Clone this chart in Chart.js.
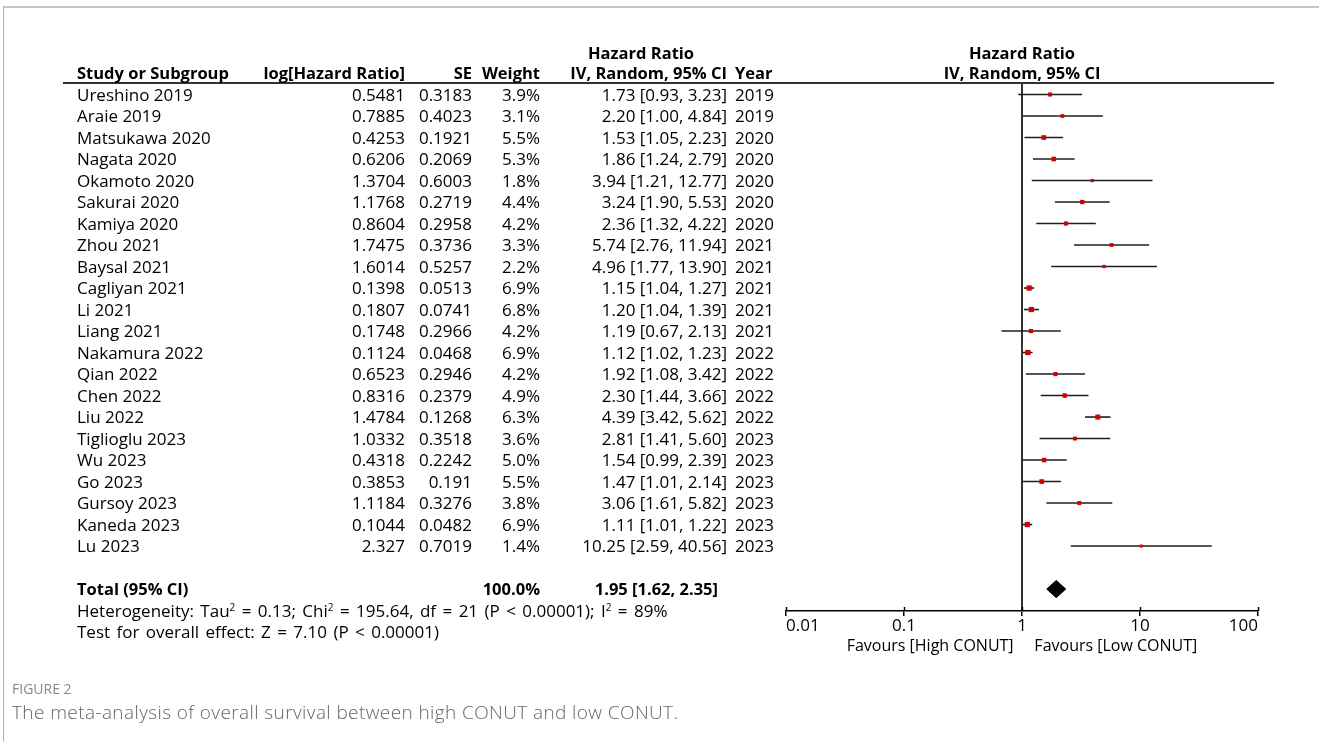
<!DOCTYPE html>
<html>
<head>
<meta charset="utf-8">
<script src="https://cdn.jsdelivr.net/npm/chart.js@4.4.1/dist/chart.umd.min.js"></script>
<style>
  html, body { margin: 0; padding: 0; background: #fff; }
  #page { position: relative; width: 1319px; height: 742px; overflow: hidden; font-family: "Open Sans", "Noto Sans", sans-serif; }
  #frame { position: absolute; left: 3px; top: 6px; right: 0; bottom: 0; border-top: 2px solid #c6c6c6; border-left: 1px solid #b0b0b0; }
  #chart { position: absolute; left: 0; top: 0; }
  .t { position: absolute; white-space: pre; font-size: 17px; line-height: 20px; color: #000; transform: translateY(-50%); }
  .b { font-weight: bold; font-size: 16.5px; }
  .ws { word-spacing: 2px; }
  .t sup { font-size: 10px; line-height: 0; vertical-align: 6px; }
  #hline { position: absolute; height: 2px; background: #333; }
  .cap1 { position: absolute; left: 12px; font-size: 14px; color: #888; transform: translateY(-50%); white-space: pre; }
  .cap2 { position: absolute; left: 12px; font-size: 19px; letter-spacing: 0.4px; font-weight: 300; color: #666; transform: translateY(-50%); white-space: pre; }
</style>
</head>
<body>
<div id="page">
  <div id="frame"></div>
  <canvas id="chart" width="1319" height="742"></canvas>
  <div id="hline"></div>
</div>
<script>
// ---------- data ----------
const studies = ['Ureshino 2019','Araie 2019','Matsukawa 2020','Nagata 2020','Okamoto 2020','Sakurai 2020','Kamiya 2020','Zhou 2021','Baysal 2021','Cagliyan 2021','Li 2021','Liang 2021','Nakamura 2022','Qian 2022','Chen 2022','Liu 2022','Tiglioglu 2023','Wu 2023','Go 2023','Gursoy 2023','Kaneda 2023','Lu 2023'];
const logHR = ['0.5481','0.7885','0.4253','0.6206','1.3704','1.1768','0.8604','1.7475','1.6014','0.1398','0.1807','0.1748','0.1124','0.6523','0.8316','1.4784','1.0332','0.4318','0.3853','1.1184','0.1044','2.327'];
const se = ['0.3183','0.4023','0.1921','0.2069','0.6003','0.2719','0.2958','0.3736','0.5257','0.0513','0.0741','0.2966','0.0468','0.2946','0.2379','0.1268','0.3518','0.2242','0.191','0.3276','0.0482','0.7019'];
const weights = [3.9,3.1,5.5,5.3,1.8,4.4,4.2,3.3,2.2,6.9,6.8,4.2,6.9,4.2,4.9,6.3,3.6,5.0,5.5,3.8,6.9,1.4];
const hr = [1.73,2.20,1.53,1.86,3.94,3.24,2.36,5.74,4.96,1.15,1.20,1.19,1.12,1.92,2.30,4.39,2.81,1.54,1.47,3.06,1.11,10.25];
const ciLow = [0.93,1.00,1.05,1.24,1.21,1.90,1.32,2.76,1.77,1.04,1.04,0.67,1.02,1.08,1.44,3.42,1.41,0.99,1.01,1.61,1.01,2.59];
const ciHigh = [3.23,4.84,2.23,2.79,12.77,5.53,4.22,11.94,13.90,1.27,1.39,2.13,1.23,3.42,3.66,5.62,5.60,2.39,2.14,5.82,1.22,40.56];
const years = [2019,2019,2020,2020,2020,2020,2020,2021,2021,2021,2021,2021,2022,2022,2022,2022,2023,2023,2023,2023,2023,2023];
const totalHR = 1.95, totalLow = 1.62, totalHigh = 2.35, totalWeight = 100.0;
const tickValues = [0.01, 0.1, 1, 10, 100];
const tickLabels = ['0.01', '0.1', '1', '10', '100'];
const axisTitle = 'Favours [High CONUT]     Favours [Low CONUT]';

// ---------- layout ----------
const W = 1319, H = 742;
const rowTotal = studies.length + 1;   // row index of the total line
const yMin = -0.535, yMax = 24.02;

const datasets = [];
// line of no effect
datasets.push({ type: 'line', data: [{x: 1, y: yMin}, {x: 1, y: yMax}], borderColor: '#333', borderWidth: 2, pointRadius: 0, fill: false, order: 3 });
// confidence intervals
studies.forEach((s, i) => {
  datasets.push({ type: 'line', data: [{x: ciLow[i], y: i}, {x: ciHigh[i], y: i}], borderColor: '#1e1e1e', borderWidth: 1.6, pointRadius: 0, fill: false, order: 2 });
});
// weighted squares (drawn on top of the CI lines)
datasets.push({
  type: 'scatter',
  data: hr.map((v, i) => ({x: v, y: i})),
  pointStyle: 'rect',
  pointRadius: weights.map(w => (2.5 + 0.4 * w) / Math.SQRT2),
  backgroundColor: '#d40000', borderWidth: 0, order: 0
});
// pooled diamond
datasets.push({
  type: 'line',
  data: [{x: totalLow, y: rowTotal}, {x: totalHR, y: rowTotal - 0.4}, {x: totalHigh, y: rowTotal}, {x: totalHR, y: rowTotal + 0.4}, {x: totalLow, y: rowTotal}],
  borderColor: '#000', borderWidth: 1, backgroundColor: '#000', fill: 'shape', pointRadius: 0, tension: 0, order: 0
});

const upperTicks = {
  id: 'upperTicks',
  afterDraw(chart) {
    const sx = chart.scales.x, ctx = chart.ctx, y = chart.chartArea.bottom;
    ctx.save();
    ctx.strokeStyle = '#000'; ctx.lineWidth = 1.5;
    tickValues.forEach(v => {
      const px = Math.round(sx.getPixelForValue(v)) + 0.5;
      ctx.beginPath(); ctx.moveTo(px, y - 4); ctx.lineTo(px, y); ctx.stroke();
    });
    ctx.restore();
  }
};

const chart = new Chart(document.getElementById('chart'), {
  type: 'scatter',
  data: { datasets },
  options: {
    responsive: false, animation: false, devicePixelRatio: 1,
    layout: { padding: { left: 786, right: 61, top: 83, bottom: 81 } },
    plugins: { legend: { display: false }, tooltip: { enabled: false } },
    scales: {
      x: {
        type: 'logarithmic', min: 0.01, max: 100, position: 'bottom',
        afterBuildTicks: s => { s.ticks = tickValues.map(v => ({ value: v })); },
        afterFit: s => { s.height = 50; },
        ticks: {
          autoSkip: false, maxRotation: 0, align: 'inner', padding: 0,
          color: '#000', font: { family: '"Open Sans"', size: 17 },
          callback: (v, i) => tickLabels[i]
        },
        grid: { drawOnChartArea: false, drawTicks: true, tickLength: 5, color: '#000', lineWidth: 1.5 },
        border: { display: true, color: '#000', width: 1.5 },
        title: { display: true, text: axisTitle, color: '#000', font: { family: '"Open Sans"', size: 16 }, padding: { top: 0, bottom: 5 } }
      },
      y: { type: 'linear', reverse: true, min: yMin, max: yMax, display: false }
    }
  },
  plugins: [upperTicks]
});

// ---------- table text (positioned on the chart's row scale) ----------
const page = document.getElementById('page');
const yPix = r => chart.scales.y.getPixelForValue(r);
function put(html, x, row, align, cls) {
  const d = document.createElement('div');
  d.className = 't' + (cls ? ' ' + cls : '');
  d.innerHTML = html;
  d.style.top = yPix(row) + 'px';
  if (align === 'right') { d.style.right = (W - x) + 'px'; }
  else if (align === 'center') { d.style.left = x + 'px'; d.style.transform = 'translate(-50%, -50%)'; }
  else { d.style.left = x + 'px'; }
  page.appendChild(d);
}
const colName = 77, colLog = 405, colSE = 472, colW = 540, colCI = 727, colYear = 735;
const ca = chart.chartArea;
const plotCenter = (ca.left + ca.right) / 2;

put('Hazard Ratio', 641, -1.95, 'center', 'b');
put('Hazard Ratio', plotCenter, -1.95, 'center', 'b');
put('Study or Subgroup', colName, -1, 'left', 'b');
put('log[Hazard Ratio]', colLog, -1, 'right', 'b');
put('SE', colSE, -1, 'right', 'b');
put('Weight', colW, -1, 'right', 'b');
put('IV, Random, 95% CI', colCI, -1, 'right', 'b');
put('Year', colYear, -1, 'left', 'b');
put('IV, Random, 95% CI', plotCenter, -1, 'center', 'b');

const f2 = v => v.toFixed(2);
studies.forEach((s, i) => {
  put(s, colName, i, 'left');
  put(logHR[i], colLog, i, 'right');
  put(se[i], colSE, i, 'right');
  put(weights[i].toFixed(1) + '%', colW, i, 'right');
  put(f2(hr[i]) + ' [' + f2(ciLow[i]) + ', ' + f2(ciHigh[i]) + ']', colCI, i, 'right');
  put(String(years[i]), colYear, i, 'left');
});
put('Total (95% CI)', colName, rowTotal, 'left', 'b');
put(totalWeight.toFixed(1) + '%', colW, rowTotal, 'right', 'b');
put(f2(totalHR) + ' [' + f2(totalLow) + ', ' + f2(totalHigh) + ']', 718, rowTotal, 'right', 'b');
put('Heterogeneity: Tau<sup>2</sup> = 0.13; Chi<sup>2</sup> = 195.64, df = 21 (P &lt; 0.00001); I<sup>2</sup> = 89%', colName, rowTotal + 1, 'left', 'ws');
put('Test for overall effect: Z = 7.10 (P &lt; 0.00001)', colName, rowTotal + 2, 'left', 'ws');

// header rule
const hl = document.getElementById('hline');
hl.style.left = '63px';
hl.style.width = (1274 - 63) + 'px';
hl.style.top = (ca.top - 1) + 'px';

// caption
const c1 = document.createElement('div'); c1.className = 'cap1'; c1.style.top = '688px'; c1.textContent = 'FIGURE 2'; page.appendChild(c1);
const c2 = document.createElement('div'); c2.className = 'cap2'; c2.style.top = '712px'; c2.textContent = 'The meta-analysis of overall survival between high CONUT and low CONUT.'; page.appendChild(c2);
</script>
</body>
</html>
